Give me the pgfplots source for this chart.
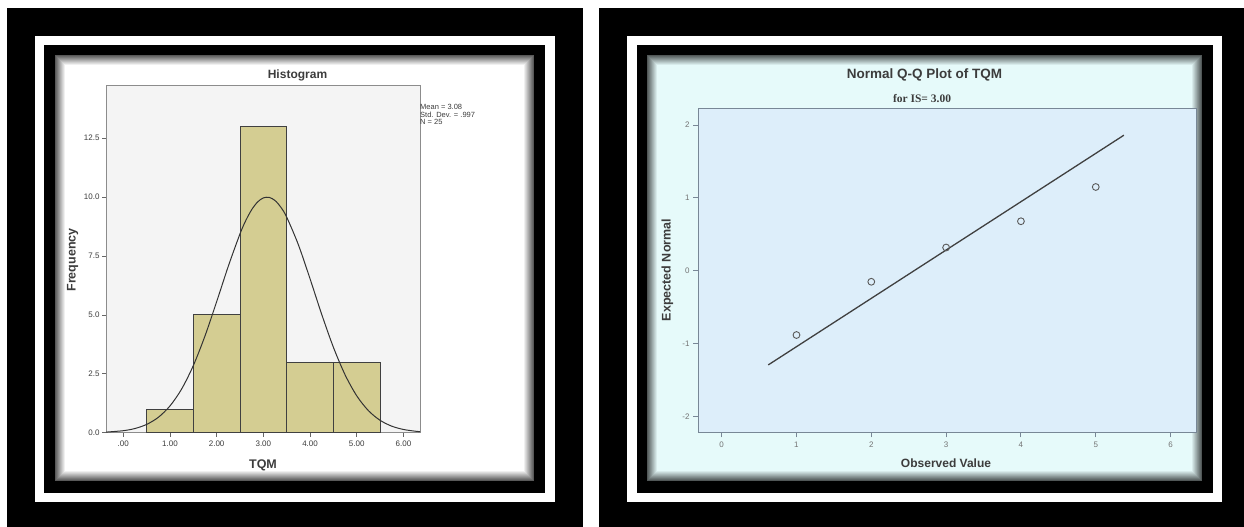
\documentclass[border=0pt]{standalone}
\usepackage{pgfplots}
\pgfplotsset{compat=1.18}
\usepackage{fontspec}
\setmainfont{Liberation Sans}
\newfontfamily\timesfont{Liberation Serif}
\definecolor{barfill}{RGB}{212,205,146}
\definecolor{histbg}{RGB}{244,244,244}
\definecolor{qqpanel}{RGB}{230,250,250}
\definecolor{qqbg}{RGB}{221,238,250}
\definecolor{qqframe}{RGB}{120,135,150}
\definecolor{txt}{RGB}{60,60,60}
\begin{document}
\begin{tikzpicture}[x=1pt,y=1pt]
\path[use as bounding box] (0,0) rectangle (1244,527);
\fill[white] (0,0) rectangle (1244,527);
% left frame
\fill[black] (7,0) rectangle (583,519);
\fill[white] (35,25) rectangle (555,491);
\fill[black] (44,34) rectangle (545,482);
\fill[white] (55,46) rectangle (534,472);
\foreach \i in {0,...,10} {
  \pgfmathtruncatemacro\p{max(0,65-6.5*\i)}
  \draw[line width=1.1pt, black!\p!white] ({55+\i+0.5},{46+\i+0.5}) rectangle ({534-\i-0.5},{472-\i-0.5});
}
% right frame
\fill[black] (599,0) rectangle (1244,519);
\fill[white] (627,25) rectangle (1222,491);
\fill[black] (637,34) rectangle (1213,482);
\fill[qqpanel] (647,46) rectangle (1202,472);
\foreach \i in {0,...,10} {
  \pgfmathtruncatemacro\p{max(0,65-6.5*\i)}
  \draw[line width=1.1pt, black!\p!qqpanel] ({647+\i+0.5},{46+\i+0.5}) rectangle ({1202-\i-0.5},{472-\i-0.5});
}
% histogram
\begin{axis}[at={(106pt,94.3pt)}, anchor=south west, scale only axis,
  width=314pt, height=347.7pt,
  xmin=-0.37, xmax=6.355, ymin=0, ymax=14.76,
  axis background/.style={fill=histbg},
  axis line style={black!45, line width=0.9pt},
  xtick={0,1,2,3,4,5,6}, xticklabels={.00,1.00,2.00,3.00,4.00,5.00,6.00},
  ytick={0,2.5,5,7.5,10,12.5}, yticklabels={0.0,2.5,5.0,7.5,10.0,12.5},
  tick align=outside, xtick pos=bottom, ytick pos=left,
  major tick length=4pt,
  tick style={black!60, line width=0.8pt},
  ticklabel style={font=\fontsize{8}{9}\selectfont, text=txt},
  xticklabel style={yshift=-1pt},
  yticklabel style={xshift=1pt}]
\addplot[ybar, bar width=1, bar shift=0pt, fill=barfill, draw=black!75, line width=0.9pt]
  coordinates {(1,1)(2,5)(3,13)(4,3)(5,3)};
\addplot[smooth, black!80, line width=1pt] coordinates {
(-0.37,0.025)(0,0.085)(0.25,0.178)(0.5,0.351)(0.75,0.652)(1,1.135)(1.25,1.855)
(1.5,2.849)(1.75,4.107)(2,5.562)(2.25,7.071)(2.5,8.443)(2.625,9.011)(2.75,9.467)
(2.875,9.791)(3,9.968)(3.125,9.99)(3.25,9.856)(3.375,9.572)(3.5,9.151)(3.75,7.979)
(4,6.533)(4.25,5.023)(4.5,3.627)(4.75,2.459)(5,1.565)(5.25,0.936)(5.5,0.526)
(5.75,0.277)(6,0.137)(6.25,0.064)(6.355,0.044)};
\end{axis}
\node[font=\bfseries\fontsize{12}{14}\selectfont, text=txt] at (297.5,452) {Histogram};
\node[font=\bfseries\fontsize{12.5}{14}\selectfont, text=txt, rotate=90] at (72.7,267) {Frequency};
\node[font=\bfseries\fontsize{12.5}{14}\selectfont, text=txt] at (263,62) {TQM};
\node[anchor=north west, align=left, inner sep=0pt, font=\fontsize{7.5}{7.7}\selectfont, text=txt] at (420,423) {Mean = 3.08\\Std. Dev. = .997\\N = 25};
% Q-Q plot
\begin{axis}[at={(698pt,94.7pt)}, anchor=south west, scale only axis,
  width=498pt, height=324pt,
  xmin=-0.316, xmax=6.34, ymin=-2.214, ymax=2.229,
  axis background/.style={fill=qqbg},
  axis line style={qqframe, line width=1pt},
  xtick={0,1,2,3,4,5,6}, xticklabels={0,1,2,3,4,5,6},
  ytick={-2,-1,0,1,2}, yticklabels={-2,-1,0,1,2},
  tick align=outside, xtick pos=bottom, ytick pos=left,
  major tick length=5pt,
  tick style={qqframe, line width=0.9pt},
  ticklabel style={font=\fontsize{8}{9}\selectfont, text=black!55},
  xticklabel style={yshift=-1pt}]
\addplot[no marks, black!75, line width=1.3pt] coordinates {(0.623,-1.29)(5.376,1.86)};
\addplot[only marks, mark=o, mark size=3.4pt, mark options={draw=black!65, line width=0.9pt}]
  coordinates {(1,-0.88)(2,-0.15)(3,0.32)(4,0.68)(5,1.15)};
\end{axis}
\node[font=\bfseries\fontsize{13.5}{15}\selectfont, text=txt] at (924.5,452) {Normal Q-Q Plot of TQM};
\node[font=\timesfont\bfseries\fontsize{11.5}{13}\selectfont, text=txt] at (922,428) {for IS= 3.00};
\node[font=\bfseries\fontsize{12.5}{14}\selectfont, text=txt, rotate=90] at (667.3,257) {Expected Normal};
\node[font=\bfseries\fontsize{12}{14}\selectfont, text=txt] at (946,64) {Observed Value};
\end{tikzpicture}
\end{document}
